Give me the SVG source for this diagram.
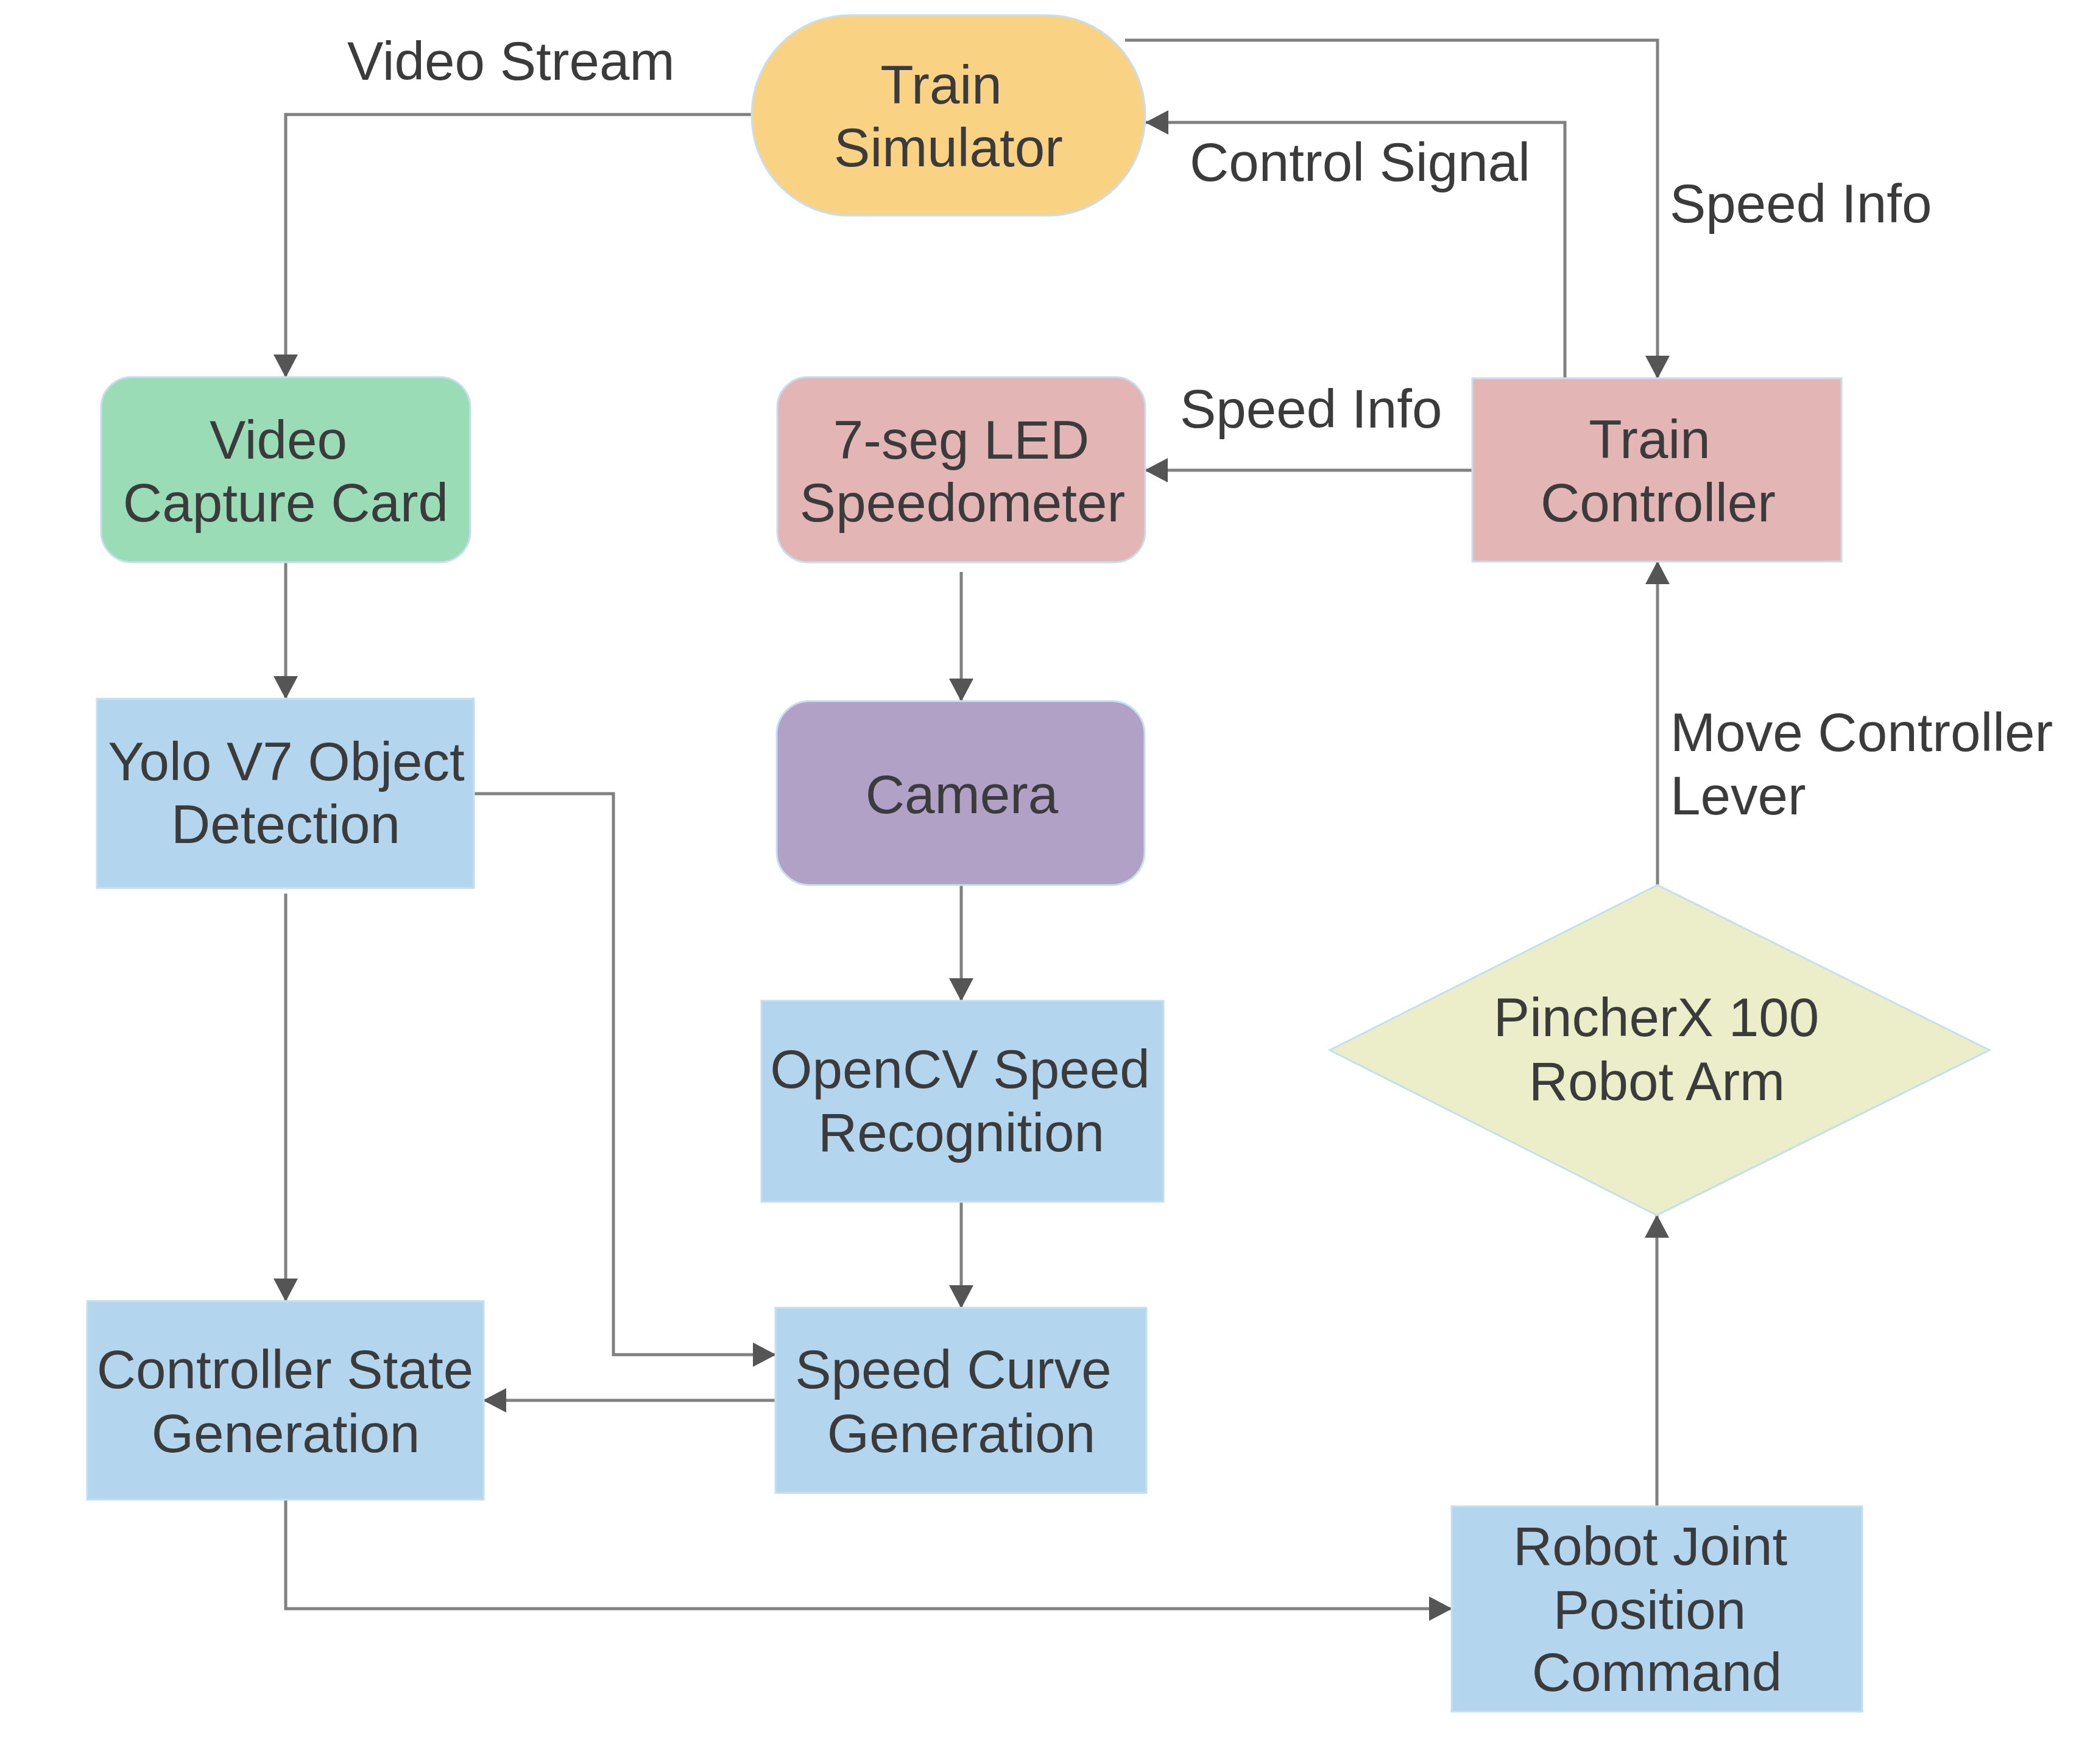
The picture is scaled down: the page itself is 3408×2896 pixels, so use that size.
<svg xmlns="http://www.w3.org/2000/svg" width="3408" height="2896" viewBox="0 0 3408 2896">
<style>
text{font-family:"Liberation Sans",Arial,sans-serif;font-size:89px;fill:#3b3b3b}
.c{text-anchor:middle}
.n{stroke:#c6dff0;stroke-width:3}
.ln{fill:none;stroke:#808080;stroke-width:5;marker-end:url(#arr)}
.ln0{fill:none;stroke:#808080;stroke-width:5}
</style>
<defs>
<marker id="arr" markerUnits="userSpaceOnUse" markerWidth="40" markerHeight="40" viewBox="0 0 38 40" refX="37" refY="20" orient="auto">
<path d="M0,0 L38,20 L0,40 z" fill="#555555"/>
</marker>
</defs>
<rect width="3408" height="2896" fill="#ffffff"/>
<g id="connectors">
<path class="ln" d="M1234,188 H469 V619"/>
<path class="ln" d="M1847,66 H2721 V621"/>
<path class="ln" d="M2569,621 V201 H1881"/>
<path class="ln" d="M2417,772 H1880"/>
<path class="ln" d="M469,923 V1147"/>
<path class="ln" d="M469,1467 V2136"/>
<path class="ln" d="M778,1303 H1007 V2224 H1273"/>
<path class="ln" d="M1578,939 V1151"/>
<path class="ln" d="M1578,1453 V1643"/>
<path class="ln" d="M1578,1950 V2147"/>
<path class="ln" d="M1273,2299 H794"/>
<path class="ln" d="M469,2462 V2641 H2383"/>
<path class="ln" d="M2720,2473 V1995"/>
<path class="ln" d="M2721,1453 V922"/>
</g>
<g id="labels">
<text x="570" y="131">Video Stream</text>
<text x="1953" y="297">Control Signal</text>
<text x="2741" y="365">Speed Info</text>
<text x="1937" y="702">Speed Info</text>
<text x="2742" y="1233">Move Controller</text>
<text x="2742" y="1337">Lever</text>
</g>
<g id="train-simulator">
<rect class="n" x="1234" y="25" width="646" height="329" rx="160" ry="164" fill="#f9d283"/>
<text class="c" x="1545" y="170">Train</text>
<text class="c" x="1557" y="273">Simulator</text>
</g>
<g id="video-capture-card">
<rect class="n" x="166" y="619" width="606" height="304" rx="50" fill="#99dcb5"/>
<text class="c" x="457" y="753">Video</text>
<text class="c" x="469" y="856">Capture Card</text>
</g>
<g id="seg-led-speedometer">
<rect class="n" x="1276" y="619" width="604" height="304" rx="50" fill="#e3b5b5"/>
<text class="c" x="1578" y="753">7-seg LED</text>
<text class="c" x="1580" y="856">Speedometer</text>
</g>
<g id="train-controller">
<rect class="n" x="2417" y="621" width="606" height="301" fill="#e3b5b5"/>
<text class="c" x="2708" y="752">Train</text>
<text class="c" x="2722" y="856">Controller</text>
</g>
<g id="yolo-detection">
<rect class="n" x="159" y="1147" width="619" height="311" fill="#b3d6ee"/>
<text class="c" x="470" y="1281">Yolo V7 Object</text>
<text class="c" x="469" y="1384">Detection</text>
</g>
<g id="camera">
<rect class="n" x="1275" y="1151" width="604" height="302" rx="54" fill="#b2a1c7"/>
<text class="c" x="1579" y="1335">Camera</text>
</g>
<g id="opencv-speed-recognition">
<rect class="n" x="1250" y="1643" width="660" height="330" fill="#b3d6ee"/>
<text class="c" x="1576" y="1786">OpenCV Speed</text>
<text class="c" x="1578" y="1890">Recognition</text>
</g>
<g id="pincherx-robot-arm">
<polygon class="n" points="2721,1453 3266,1724 2720,1995 2183,1724" fill="#ebeec8"/>
<text class="c" x="2719" y="1701">PincherX 100</text>
<text class="c" x="2720" y="1806">Robot Arm</text>
</g>
<g id="controller-state-generation">
<rect class="n" x="143" y="2136" width="651" height="326" fill="#b3d6ee"/>
<text class="c" x="468" y="2279">Controller State</text>
<text class="c" x="469" y="2384">Generation</text>
</g>
<g id="speed-curve-generation">
<rect class="n" x="1273" y="2147" width="609" height="304" fill="#b3d6ee"/>
<text class="c" x="1565" y="2279">Speed Curve</text>
<text class="c" x="1578" y="2384">Generation</text>
</g>
<g id="robot-joint-position-command">
<rect class="n" x="2383" y="2473" width="674" height="337" fill="#b3d6ee"/>
<text class="c" x="2709" y="2569">Robot Joint</text>
<text class="c" x="2708" y="2674">Position</text>
<text class="c" x="2720" y="2776">Command</text>
</g>
</svg>
